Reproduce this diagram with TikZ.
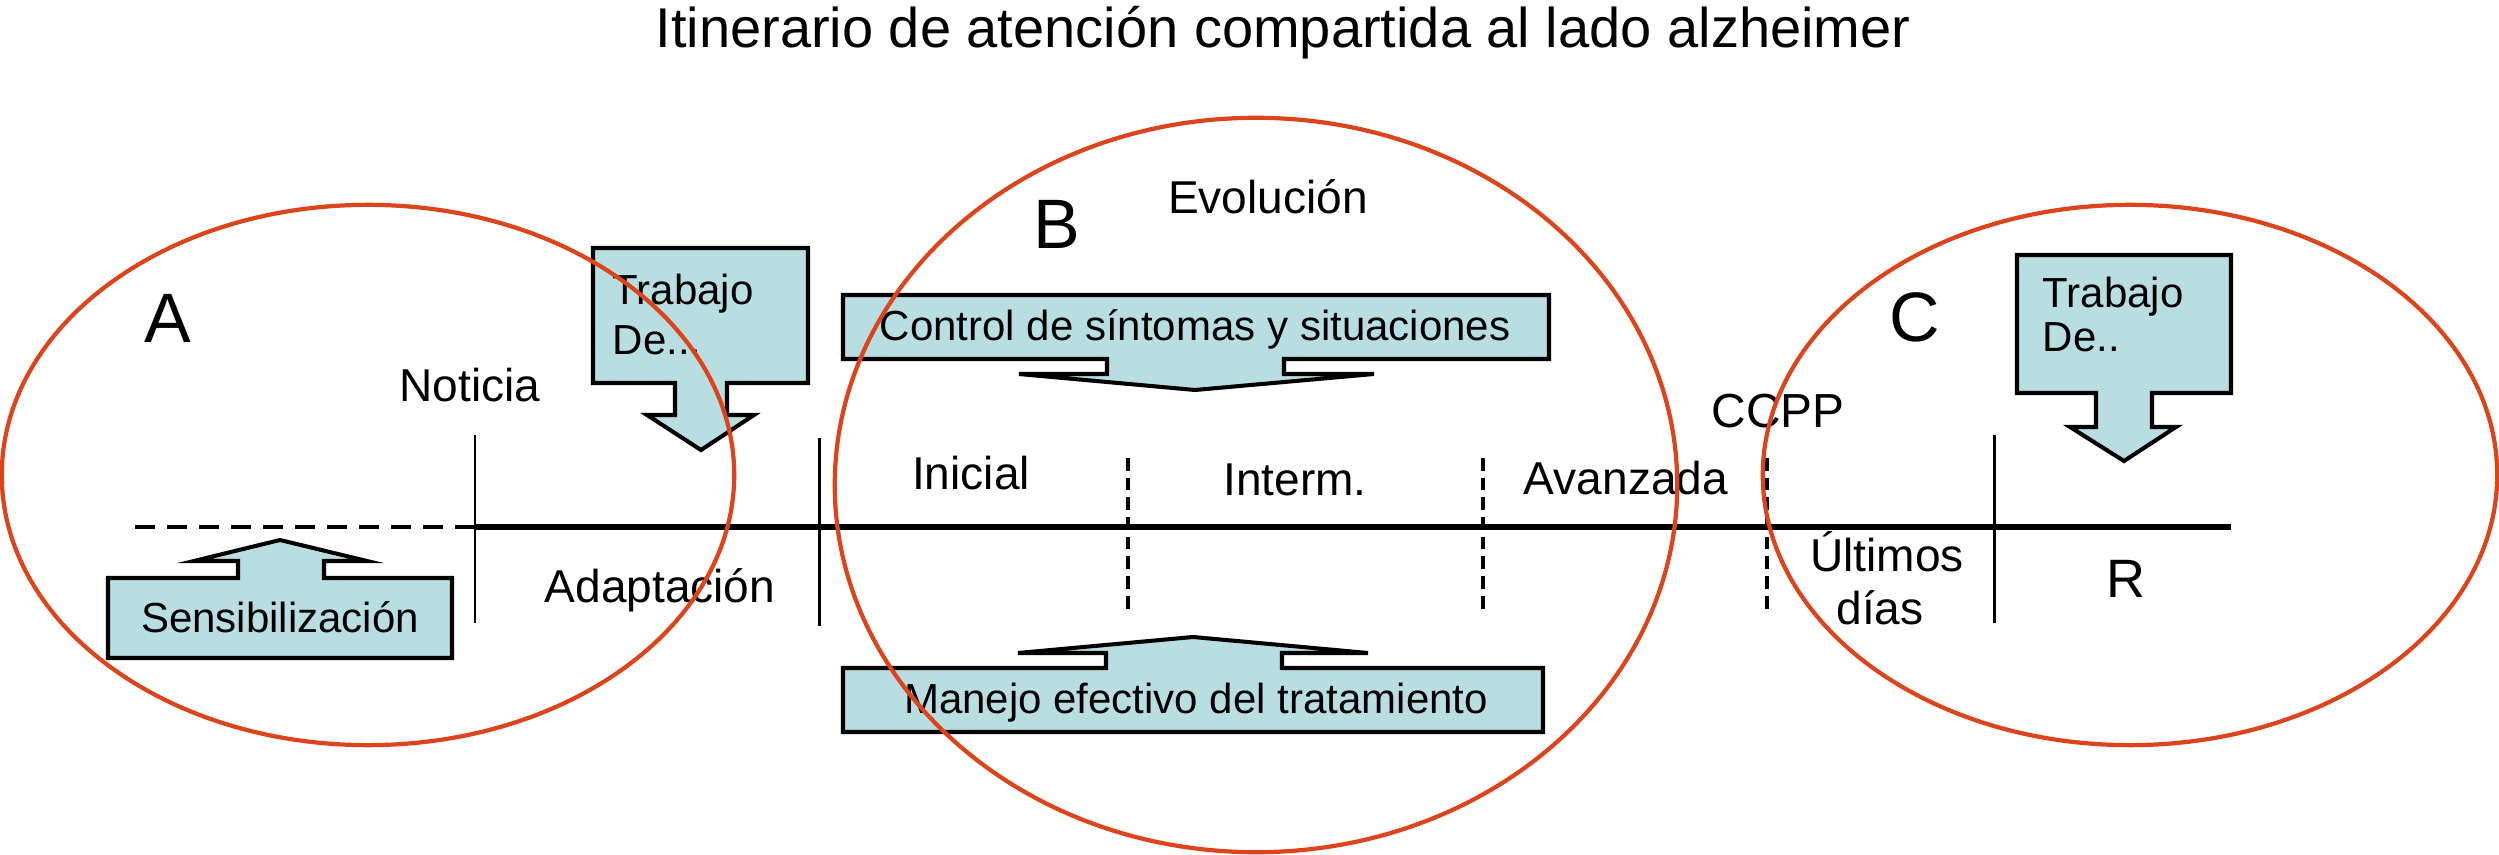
\documentclass[tikz,border=0pt]{standalone}
\usepackage{fontspec}
\setmainfont{Liberation Sans}
\definecolor{ered}{RGB}{222,68,28}
\definecolor{lblue}{RGB}{185,222,226}
\tikzset{
  ell/.style={draw=ered, line width=1.2pt},
  abox/.style={draw=black, fill=lblue, line width=1.15pt, line join=miter},
  axis/.style={draw=black, line width=1.5pt},
  tick/.style={draw=black, line width=0.85pt},
  dtick/.style={draw=black, line width=0.95pt, dash pattern=on 3.6pt off 2pt},
  dline/.style={draw=black, line width=0.95pt, dash pattern=on 5.7pt off 3.4pt},
  txt/.style={inner sep=0pt, anchor=base},
  ttl/.style={txt, font=\fontsize{15.93}{18}\selectfont},
  big/.style={txt, font=\fontsize{19.9}{22}\selectfont},
  lbl/.style={txt, font=\fontsize{13.1}{15}\selectfont},
  btxt/.style={txt, font=\fontsize{11.95}{14}\selectfont},
}
\begin{document}
\begin{tikzpicture}[x=0.01cm,y=-0.01cm]
\useasboundingbox (0,0) rectangle (2499,855);

% arrow boxes
\path[abox] (108,578) -- (238,578) -- (238,561) -- (194,561) -- (280,540) -- (367,561) -- (324,561) -- (324,578) -- (452,578) -- (452,658) -- (108,658) -- cycle;
\path[abox] (593,248) -- (808,248) -- (808,383) -- (727,383) -- (727,415) -- (754,415) -- (701,450) -- (647,415) -- (675,415) -- (675,383) -- (593,383) -- cycle;
\path[abox] (843,295) -- (1549,295) -- (1549,359) -- (1284,359) -- (1284,374) -- (1374,374) -- (1195,390) -- (1019,374) -- (1107,374) -- (1107,359) -- (843,359) -- cycle;
\path[abox] (843,668) -- (1106,668) -- (1106,653) -- (1018,653) -- (1193,637) -- (1368,653) -- (1282,653) -- (1282,668) -- (1543,668) -- (1543,732) -- (843,732) -- cycle;
\path[abox] (2017,255) -- (2231,255) -- (2231,393) -- (2152,393) -- (2152,427) -- (2176,427) -- (2124,461) -- (2070,427) -- (2096,427) -- (2096,393) -- (2017,393) -- cycle;

% timeline
\coordinate (t0) at (135,527);
\coordinate (t1) at (475,527);
\coordinate (t2) at (2231,527);
\path[dline] (t0) -- (t1);
\path[axis] (t1) -- (t2);
\path[tick] (475,435) -- (475,623);
\path[tick] (819,438) -- (819,626);
\path[dtick] (1128,458) -- (1128,610);
\path[dtick] (1483,458) -- (1483,610);
\path[dtick] (1767,458) -- (1767,612);
\path[tick] (1994,435) -- (1994,623);

% texts
\node[ttl] (title) at (1283,48) {Itinerario de atención compartida al lado alzheimer};
\node[big] (la) at (168,343) {A};
\node[big] (lb) at (1057,249) {B};
\node[big] (lc) at (1915,342) {C};
\node[lbl] (evol) at (1268,214) {Evolución};
\node[lbl] (noti) at (470,402) {Noticia};
\node[lbl] (adap) at (660,603) {Adaptación};
\node[lbl] (inic) at (971,490) {Inicial};
\node[lbl] (inte) at (1295,496) {Interm.};
\node[lbl] (avan) at (1626,495) {Avanzada};
\node[lbl, font=\fontsize{13.6}{15}\selectfont] (ccpp) at (1778,428) {CCPP};
\node[lbl] (ult1) at (1887,572) {Últimos};
\node[lbl] (ult2) at (1880,625) {días};
\node[lbl, font=\fontsize{15.36}{18}\selectfont] (rr) at (2126,597) {R};
\node[btxt] (sens) at (280,633) {Sensibilización};
\node[btxt] (ctrl) at (1195,341) {Control de síntomas y situaciones};
\node[btxt] (mane) at (1196,713) {Manejo efectivo del tratamiento};
\node[btxt, anchor=base west] (tra1) at (612,305) {Trabajo};
\node[btxt, anchor=base west] (tra2) at (612,355) {De...};
\node[btxt, anchor=base west] (trb1) at (2042,308) {Trabajo};
\node[btxt, anchor=base west] (trb2) at (2042,352) {De..};

% ellipses on top
\draw[ell] (368,475) ellipse [x radius=3.66cm, y radius=2.70cm];
\draw[ell] (1256,485) ellipse [x radius=4.21cm, y radius=3.67cm];
\draw[ell] (2130,475) ellipse [x radius=3.67cm, y radius=2.70cm];
\end{tikzpicture}
\end{document}
